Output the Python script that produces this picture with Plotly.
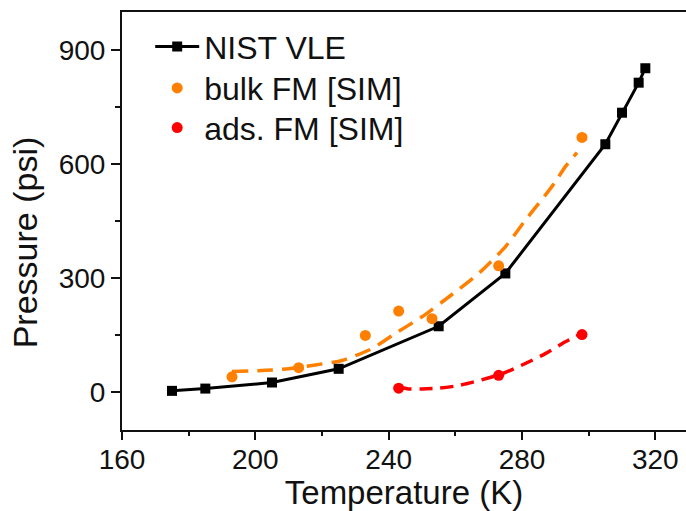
import plotly.graph_objects as go

# ---- data ----
nist_T = [175, 185, 205, 225, 255, 275, 305, 310, 315, 317]
nist_P = [3, 9, 25, 61, 173, 312, 652, 735, 814, 852]

bulk_T = [193, 213, 233, 243, 253, 273, 298]
bulk_P = [40, 64, 149, 213, 193, 332, 670]

ads_T = [243, 273, 298]
ads_P = [10, 44, 151]

bulk_fit_T = [193, 203, 210, 217, 226, 235, 242, 250, 258, 267, 275, 281, 287, 290, 293, 296.5]
bulk_fit_P = [54, 57, 61, 70, 83, 114, 154, 198, 250, 312, 382, 452, 518, 553, 593, 630]

ads_fit_T = [243, 246, 250, 255, 261, 267, 274, 281, 287, 293, 297]
ads_fit_P = [13, 8, 8, 10, 17, 30, 48, 75, 101, 132, 150]

x_ticks = [160, 200, 240, 280, 320]
y_ticks = [0, 300, 600, 900]

ORANGE = "#FF7F00"
RED = "#FF0000"
INK = "#111111"
FONT = "Liberation Sans, Arial, sans-serif"

fig = go.Figure()

fig.add_trace(go.Scatter(
    x=bulk_fit_T, y=bulk_fit_P, mode="lines", showlegend=False,
    line=dict(color=ORANGE, width=3.5, dash="16px,9px", shape="spline", smoothing=0.6),
    hoverinfo="skip"))
fig.add_trace(go.Scatter(
    x=ads_fit_T, y=ads_fit_P, mode="lines", showlegend=False,
    line=dict(color=RED, width=3.5, dash="13px,8px", shape="spline", smoothing=0.6),
    hoverinfo="skip"))

fig.add_trace(go.Scatter(
    x=nist_T, y=nist_P, mode="lines+markers", name="NIST VLE", legend="legend",
    line=dict(color="black", width=3),
    marker=dict(symbol="square", size=10, color="black")))
fig.add_trace(go.Scatter(
    x=bulk_T, y=bulk_P, mode="markers", name="bulk FM [SIM]", legend="legend2",
    marker=dict(symbol="circle", size=11, color=ORANGE)))
fig.add_trace(go.Scatter(
    x=ads_T, y=ads_P, mode="markers", name="ads. FM [SIM]", legend="legend3",
    marker=dict(symbol="circle", size=11, color=RED)))

legend_common = dict(x=0.05, xanchor="left", yanchor="middle",
                     bgcolor="rgba(0,0,0,0)",
                     font=dict(size=32, family=FONT, color=INK),
                     itemwidth=44)

fig.update_layout(
    width=686, height=511,
    margin=dict(l=122, r=0, t=12, b=81),
    paper_bgcolor="white", plot_bgcolor="white",
    font=dict(family=FONT, color=INK, size=28),
    legend=dict(y=0.917, **legend_common),
    legend2=dict(y=0.818, **legend_common),
    legend3=dict(y=0.723, **legend_common),
    xaxis=dict(range=[160, 329.2], tickvals=x_ticks, ticks="outside", ticklen=8, tickwidth=2,
               tickcolor=INK, showline=True, linecolor=INK, linewidth=2, mirror=True,
               showgrid=False, zeroline=False, ticklabelstandoff=-5,
               minor=dict(dtick=20, ticks="outside", ticklen=4, tickwidth=2, tickcolor=INK),
               title=dict(text="Temperature (K)", font=dict(size=33), standoff=6),
               tickfont=dict(size=28)),
    yaxis=dict(range=[-100, 1000], tickvals=y_ticks, ticks="outside", ticklen=9, tickwidth=2,
               tickcolor=INK, showline=True, linecolor=INK, linewidth=2, mirror=False,
               showgrid=False, zeroline=False,
               minor=dict(dtick=150, ticks="outside", ticklen=5, tickwidth=2, tickcolor=INK),
               tickfont=dict(size=28)),
    annotations=[dict(text="Pressure (psi)", textangle=-90, xref="paper", yref="paper",
                      x=-0.173, y=0.45, xanchor="center", yanchor="middle",
                      showarrow=False, font=dict(size=34, family=FONT, color=INK))],
)

fig.write_html("out.html")
